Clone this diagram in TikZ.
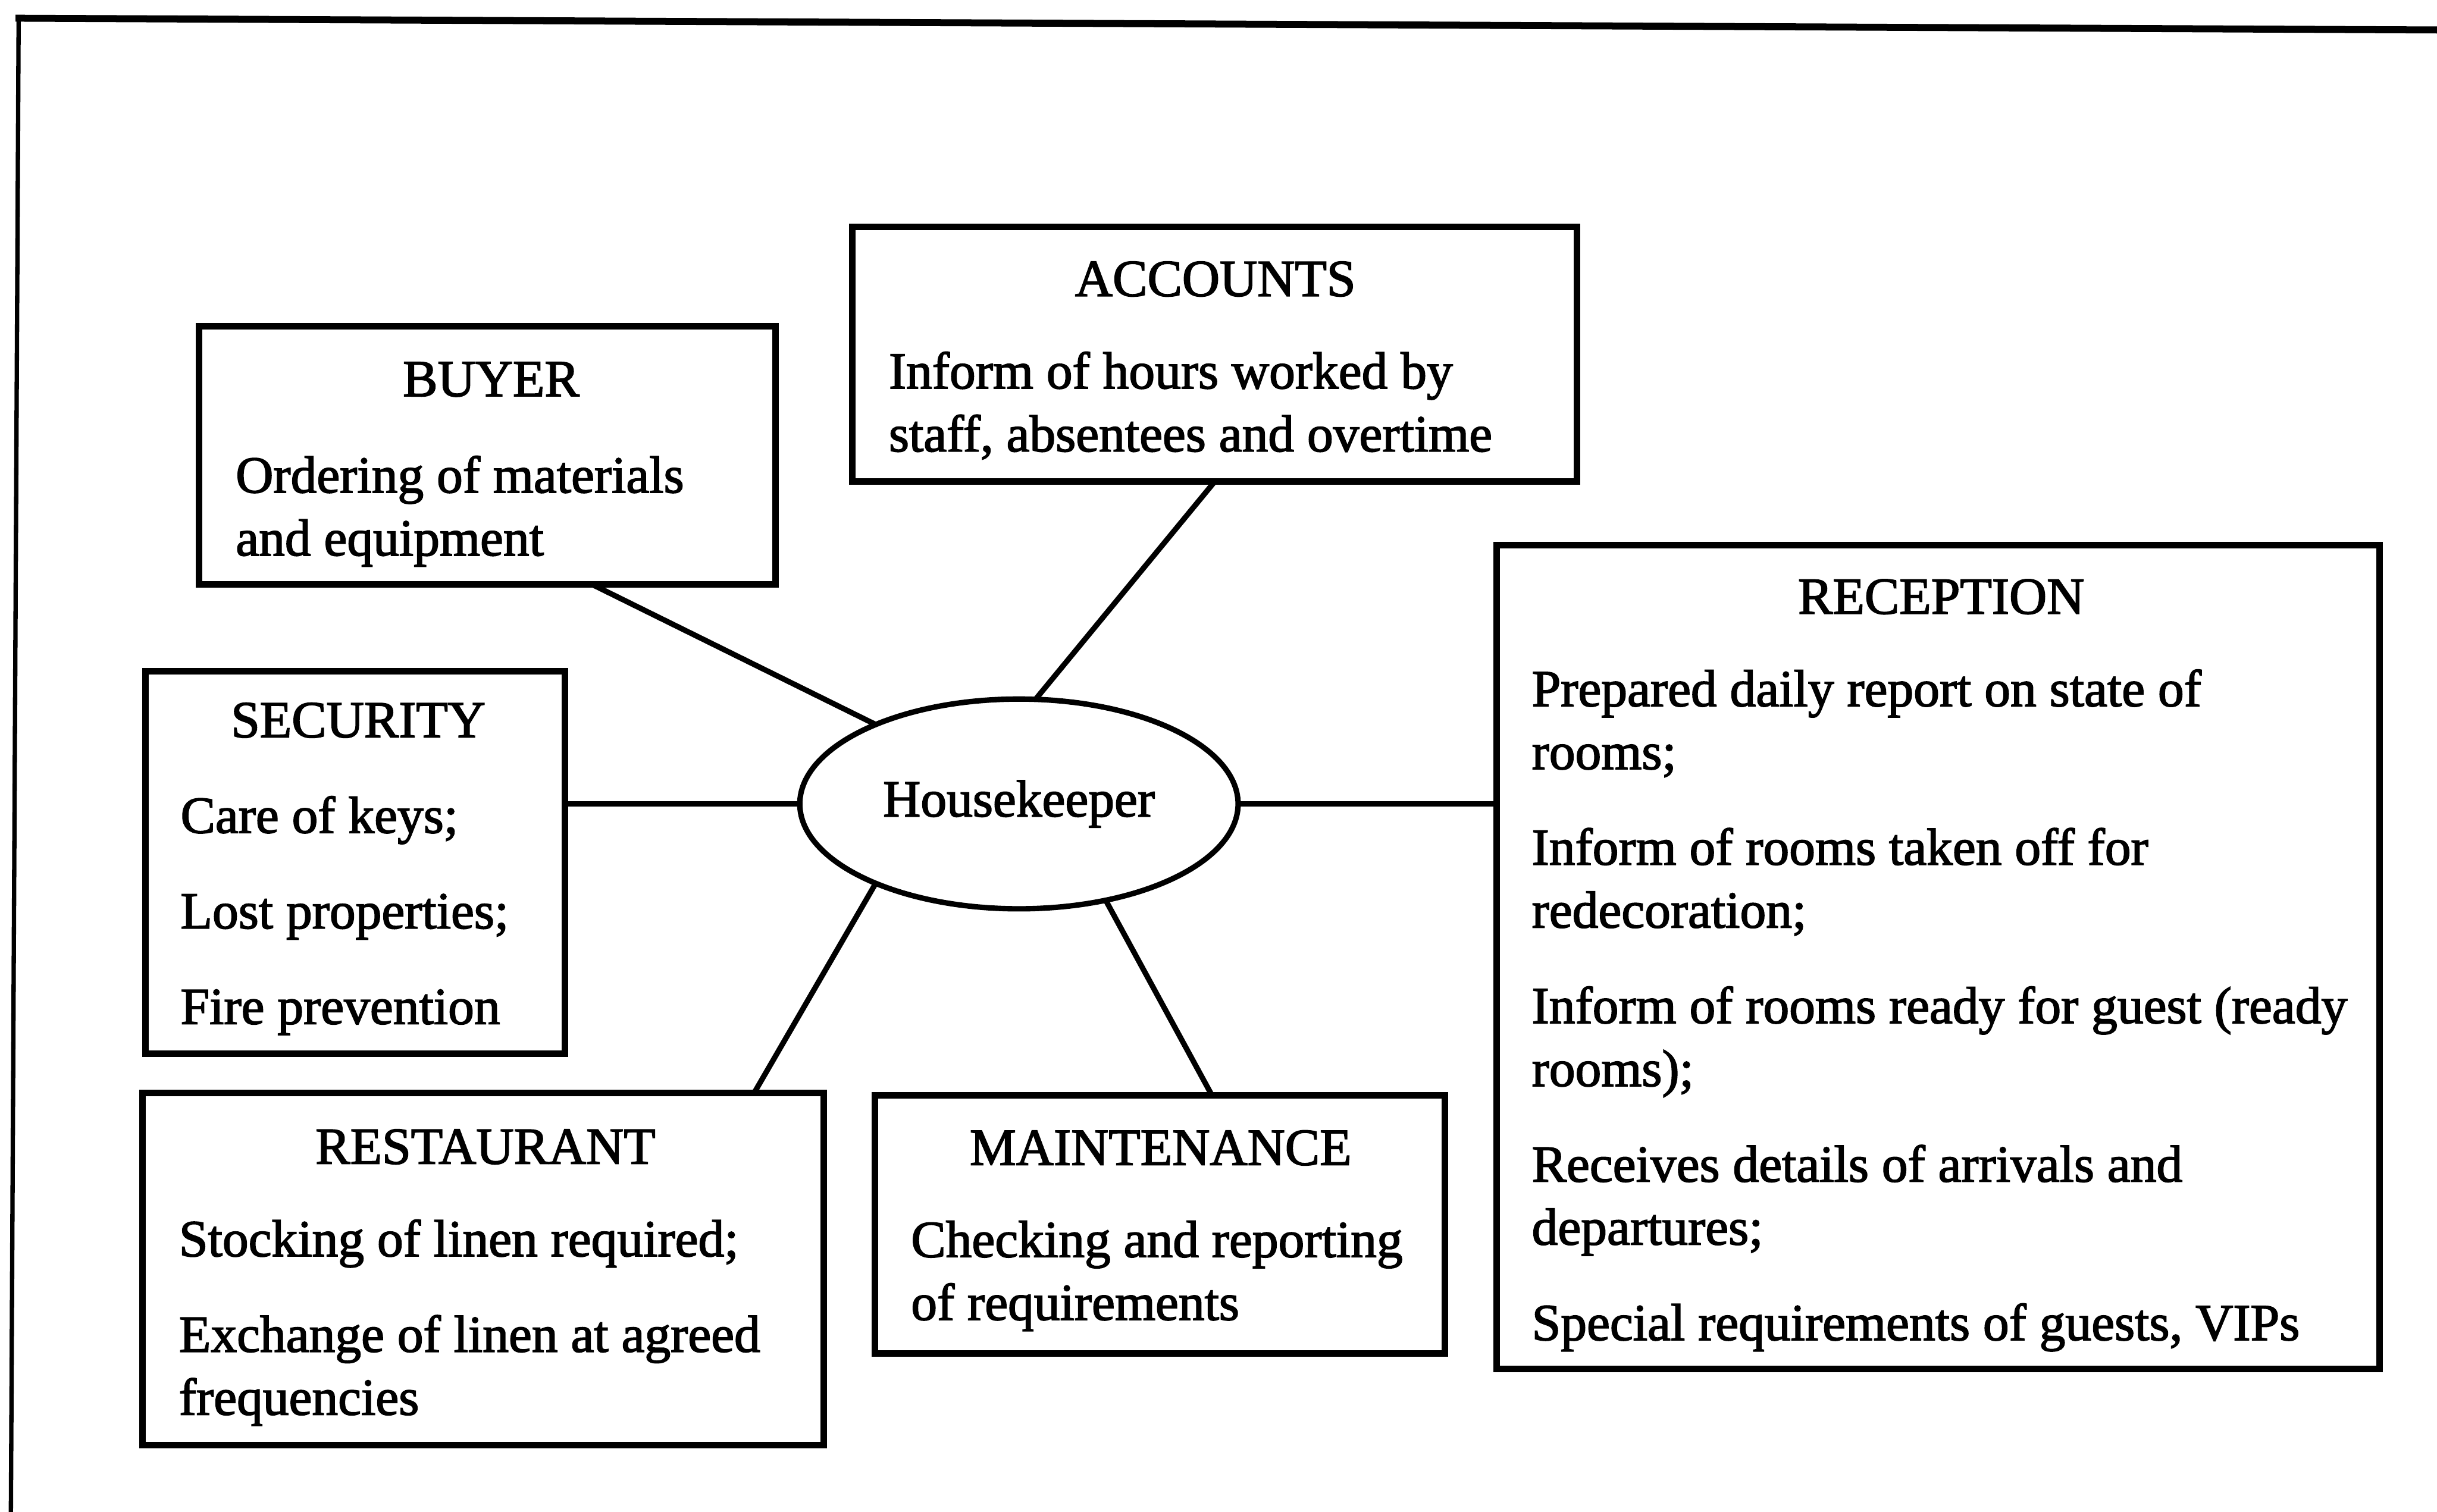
\documentclass[tikz,border=0pt]{standalone}
\usepackage{fontspec}
\newfontfamily\scanfont{Liberation Serif}[FakeBold=2]
\usetikzlibrary{shapes.geometric}

\newcommand\txt{\scanfont\fontsize{33.5}{40.5}\selectfont}
\newcommand\lines[1]{\parbox[t]{560pt}{\raggedright\setlength\parskip{21pt}#1}}

\tikzset{
  panel/.style={draw, rectangle, line width=4.2pt, inner sep=0pt, outer sep=0pt},
  hub/.style={draw, ellipse, line width=3.5pt, inner sep=0pt, outer sep=0pt,
              minimum width=282pt, minimum height=135pt, font=\txt},
  title/.style={anchor=base, inner sep=0pt, font=\txt},
  body/.style={anchor=base west, inner sep=0pt, font=\txt},
  link/.style={line width=3.5pt},
  frame/.style={line width=#1, line cap=butt},
}

\begin{document}
\begin{tikzpicture}[x=1pt, y=-1pt]
\useasboundingbox (0,0) rectangle (1568,973);

% outer page frame (top and left edges)
\draw[frame=4.5pt] (1570,19.3) -- (10,11.7);
\draw[frame=2.8pt] (12,10) -- (7,975);

% central hub
\node[hub] (hk) at (655.6,517.4) {Housekeeper};

% BUYER
\node[panel, minimum width=371pt, minimum height=166pt] (buyer) at (313.5,293) {};
\node[title] (buyer-t) at (316,255) {BUYER};
\node[body] (buyer-b) at (151.5,317) {\lines{Ordering of materials\\and equipment}};

% ACCOUNTS
\node[panel, minimum width=466pt, minimum height=164pt] (accounts) at (781.5,228) {};
\node[title] (accounts-t) at (782,190.5) {ACCOUNTS};
\node[body] (accounts-b) at (571.7,250) {\lines{Inform of hours worked by\\staff, absentees and overtime}};

% RECEPTION
\node[panel, minimum width=568pt, minimum height=530pt] (reception) at (1247,616) {};
\node[title] (reception-t) at (1249,395) {RECEPTION};
\node[body] (reception-b) at (985.4,454.5) {\lines{%
  Prepared daily report on state of\\rooms;\par
  Inform of rooms taken off for\\redecoration;\par
  Inform of rooms ready for guest (ready\\rooms);\par
  Receives details of arrivals and\\departures;\par
  Special requirements of guests, VIPs}};

% SECURITY
\node[panel, minimum width=270pt, minimum height=246pt] (security) at (228.5,555) {};
\node[title] (security-t) at (230.5,474.5) {SECURITY};
\node[body] (security-b) at (116,536) {\lines{Care of keys;\par Lost properties;\par Fire prevention}};

% RESTAURANT
\node[panel, minimum width=438.5pt, minimum height=226.5pt] (restaurant) at (310.75,816.75) {};
\node[title] (restaurant-t) at (312.4,749) {RESTAURANT};
\node[body] (restaurant-b) at (115,808.5) {\lines{Stocking of linen required;\par Exchange of linen at agreed\\frequencies}};

% MAINTENANCE
\node[panel, minimum width=366.5pt, minimum height=166pt] (maintenance) at (746.25,788) {};
\node[title] (maintenance-t) at (746.8,749.7) {MAINTENANCE};
\node[body] (maintenance-b) at (586,809) {\lines{Checking and reporting\\of requirements}};

% connectors from the hub to each department
\draw[link] (buyer.-51.9) -- (hk.151.5);
\draw[link] (accounts.south) -- (hk.81.8);
\draw[link] (hk.west) -- (hk.west -| security.east);
\draw[link] (hk.east) -- (hk.east -| reception.west);
\draw[link] (restaurant.33.2) -- (hk.-151);
\draw[link] (maintenance.68) -- (hk.-48.8);
\end{tikzpicture}
\end{document}
